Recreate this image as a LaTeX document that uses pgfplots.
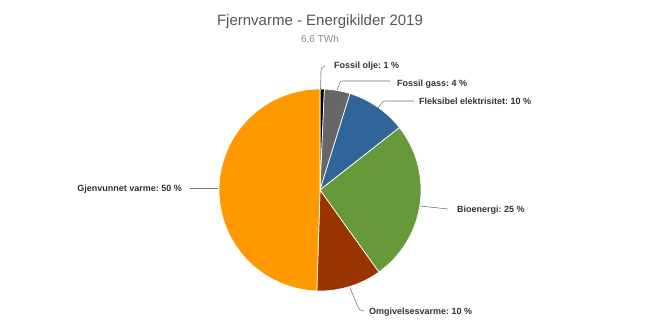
\documentclass[border=0pt]{standalone}
\usepackage{pgfplots}
\pgfplotsset{compat=1.18}
\usepackage{fontspec}
\setmainfont{Liberation Sans}
\frenchspacing
\definecolor{cOlje}{HTML}{000000}
\definecolor{cGass}{HTML}{666666}
\definecolor{cFleks}{HTML}{2F6598}
\definecolor{cBio}{HTML}{67983A}
\definecolor{cOmg}{HTML}{993300}
\definecolor{cGjen}{HTML}{FF9900}
\definecolor{cTitle}{HTML}{555555}
\definecolor{cSub}{HTML}{888888}
\definecolor{cLab}{HTML}{333333}
\definecolor{cLead}{HTML}{777777}
% Percent shares (cumulative start/end, clockwise from 12 o'clock)
% Fossil olje 0.7, Fossil gass 4.1, Fleksibel elektrisitet 9.6,
% Bioenergi 25.7, Omgivelsesvarme 10.4, Gjenvunnet varme 49.5
\newcommand{\slice}[3]{%
  \addplot[fill=#3, draw=white, line width=0.7pt, domain=90-3.6*#2:90-3.6*#1, samples=80, variable=\t]
    ({320+101*cos(\t)},{190-101*sin(\t)}) -- (axis cs:320,190) -- cycle;
}
\begin{document}
\begin{tikzpicture}
\begin{axis}[
  scale only axis, width=655bp, height=328bp,
  xmin=0, xmax=655, ymin=0, ymax=328, y dir=reverse,
  hide axis, clip=false,
]
\path (axis cs:0,0) (axis cs:655,328);
\slice{0}{0.7}{cOlje}
\slice{0.7}{4.8}{cGass}
\slice{4.8}{14.4}{cFleks}
\slice{14.4}{40.1}{cBio}
\slice{40.1}{50.5}{cOmg}
\slice{50.5}{100}{cGjen}
% title
\node[text=cTitle, font=\fontsize{15bp}{18bp}\selectfont] at (axis cs:320,22) {Fjernvarme - Energikilder 2019};
\node[text=cSub, font=\fontsize{10bp}{12bp}\selectfont] at (axis cs:320,40) {6,6 TWh};
% leader lines
\begin{scope}[draw=cLead, line width=0.6pt]
\draw (axis cs:320.5,89) -- (axis cs:321,74) .. controls (axis cs:321,68) .. (axis cs:325,66);
\draw (axis cs:337,90) -- (axis cs:339,85) .. controls (axis cs:340,81) .. (axis cs:345,81) -- (axis cs:390,81);
\draw (axis cs:378,108) -- (axis cs:381,104) .. controls (axis cs:383,101) .. (axis cs:388,101) -- (axis cs:414,101);
\draw (axis cs:420,206) -- (axis cs:448,209);
\draw (axis cs:190,188) -- (axis cs:218,188);
\draw (axis cs:350,288) -- (axis cs:356,302) .. controls (axis cs:359,310) .. (axis cs:364,311);
\end{scope}
% labels
\begin{scope}[every node/.style={text=cLab, font=\fontsize{9bp}{11bp}\selectfont\bfseries, inner sep=0pt}]
\node[anchor=west] at (axis cs:334,66) {Fossil olje: 1 \%};
\node[anchor=west] at (axis cs:397,84) {Fossil gass: 4 \%};
\node[anchor=west] at (axis cs:419,101) {Fleksibel elektrisitet: 10 \%};
\node[anchor=west] at (axis cs:457,210) {Bioenergi: 25 \%};
\node[anchor=east] at (axis cs:182,189) {Gjenvunnet varme: 50 \%};
\node[anchor=west] at (axis cs:369,312) {Omgivelsesvarme: 10 \%};
\end{scope}
\end{axis}
\useasboundingbox (current axis.south west) rectangle (current axis.north east);
\end{tikzpicture}
\end{document}
